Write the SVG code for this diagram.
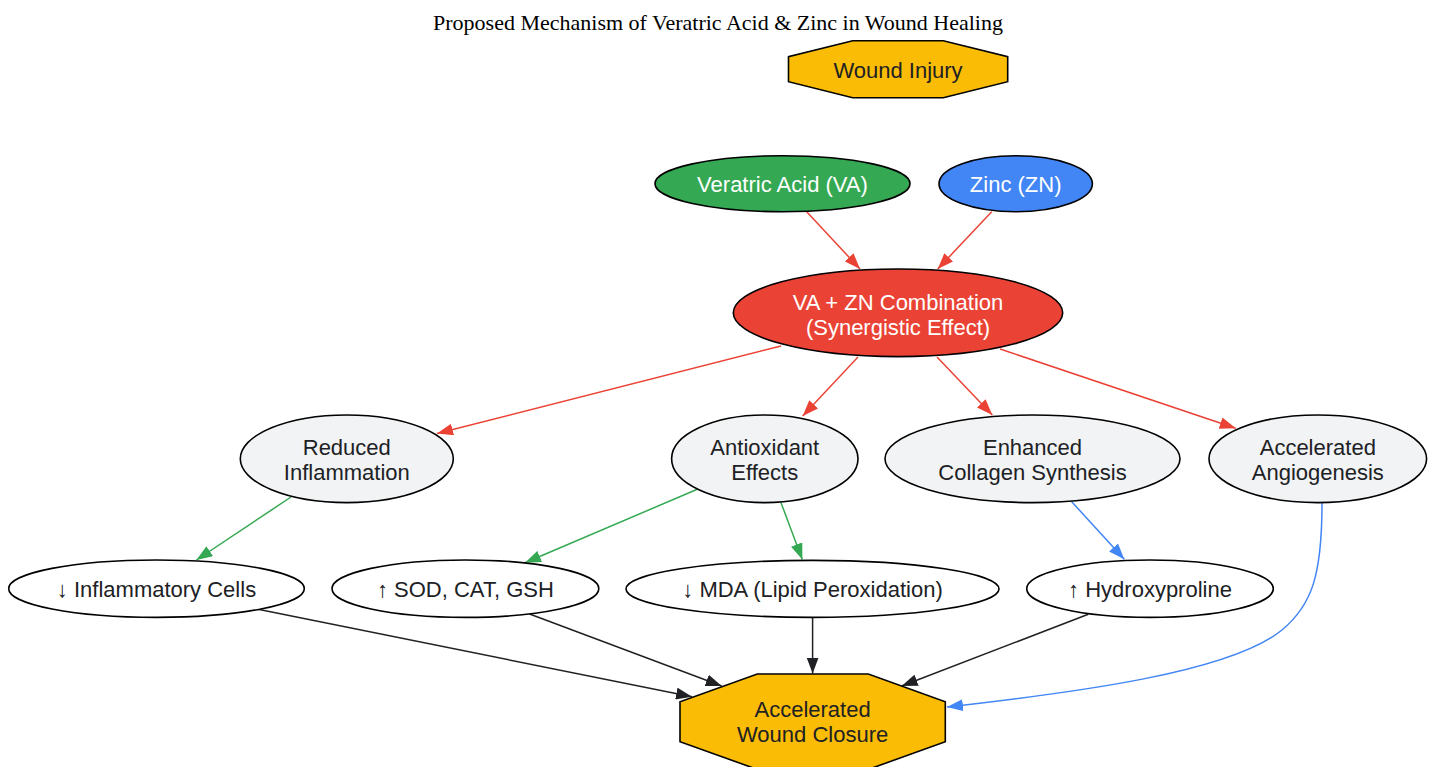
<svg xmlns="http://www.w3.org/2000/svg" width="1437" height="767" viewBox="0 0 1437 767">
<style>
.t{font-family:"Liberation Sans",Arial,sans-serif;font-size:22px;text-anchor:middle;fill:#202124}
.w{fill:#ffffff}
.title{font-family:"Liberation Serif","Times New Roman",serif;font-size:22px;text-anchor:middle;fill:#000}
.n{stroke:#000;stroke-width:1.6}
.g{fill:#F1F3F4}
.wh{fill:#ffffff}
.e{fill:none;stroke-width:1.5}
.red{stroke:#EA4335}
.grn{stroke:#34A853}
.blu{stroke:#4285F4}
.blk{stroke:#202124}
</style>
<defs>
<marker id="ar" markerUnits="userSpaceOnUse" markerWidth="16" markerHeight="12" viewBox="0 0 16 12" refX="16" refY="6" orient="auto"><path d="M0,0 L16,6 L0,12 z" fill="#EA4335"/></marker>
<marker id="ag" markerUnits="userSpaceOnUse" markerWidth="16" markerHeight="12" viewBox="0 0 16 12" refX="16" refY="6" orient="auto"><path d="M0,0 L16,6 L0,12 z" fill="#34A853"/></marker>
<marker id="ab" markerUnits="userSpaceOnUse" markerWidth="16" markerHeight="12" viewBox="0 0 16 12" refX="16" refY="6" orient="auto"><path d="M0,0 L16,6 L0,12 z" fill="#4285F4"/></marker>
<marker id="ak" markerUnits="userSpaceOnUse" markerWidth="16" markerHeight="12" viewBox="0 0 16 12" refX="16" refY="6" orient="auto"><path d="M0,0 L16,6 L0,12 z" fill="#202124"/></marker>
</defs>
<rect width="1437" height="767" fill="#ffffff"/>
<text class="title" x="718" y="30">Proposed Mechanism of Veratric Acid &amp; Zinc in Wound Healing</text>

<g id="connectors">
<path class="e red" d="M806.7,211.7 L860,269" marker-end="url(#ar)"/>
<path class="e red" d="M991.7,211.7 L937.7,269" marker-end="url(#ar)"/>
<path class="e red" d="M781,346 L437,433.5" marker-end="url(#ar)"/>
<path class="e red" d="M858,357 L802.7,416" marker-end="url(#ar)"/>
<path class="e red" d="M937,357 L992.3,415" marker-end="url(#ar)"/>
<path class="e red" d="M1000,349 L1235.7,428.3" marker-end="url(#ar)"/>
<path class="e grn" d="M291,497 L196.4,560" marker-end="url(#ag)"/>
<path class="e grn" d="M697.3,489.3 L525,562.7" marker-end="url(#ag)"/>
<path class="e grn" d="M781,502.7 L802.3,559.5" marker-end="url(#ag)"/>
<path class="e blu" d="M1071.7,501.7 L1124.3,559.3" marker-end="url(#ab)"/>
<path class="e blu" d="M1322,503 C1322,575 1312,605 1282,630 C1230,672 1080,692 947,707" marker-end="url(#ab)"/>
<path class="e blk" d="M258,609.3 L692,696.7" marker-end="url(#ak)"/>
<path class="e blk" d="M529.6,614 L721.7,686" marker-end="url(#ak)"/>
<path class="e blk" d="M812.6,617.3 L812.6,673.5" marker-end="url(#ak)"/>
<path class="e blk" d="M1088.3,614.3 L901.7,686" marker-end="url(#ak)"/>
</g>

<g id="wound_injury">
<polygon class="n" fill="#FBBC05" points="852.7,40.7 943.3,40.7 1007.7,56.7 1007.7,81.7 943.3,97.7 852.7,97.7 788.5,81.7 788.5,56.7"/>
<text class="t" x="898" y="77.5">Wound Injury</text>
</g>
<g id="va">
<ellipse class="n" fill="#34A853" cx="782.5" cy="183.7" rx="127.5" ry="28"/>
<text class="t w" x="782.5" y="191.8">Veratric Acid (VA)</text>
</g>
<g id="zn">
<ellipse class="n" fill="#4285F4" cx="1015.7" cy="183.7" rx="76.7" ry="28"/>
<text class="t w" x="1015.7" y="191.8">Zinc (ZN)</text>
</g>
<g id="combo">
<ellipse class="n" fill="#EA4335" cx="898" cy="312.8" rx="164.7" ry="43.8"/>
<text class="t w" x="898" y="310">VA + ZN Combination</text>
<text class="t w" x="898" y="335">(Synergistic Effect)</text>
</g>
<g id="inflammation">
<ellipse class="n g" cx="346.8" cy="458.8" rx="106.5" ry="43.8"/>
<text class="t" x="346.8" y="455">Reduced</text>
<text class="t" x="346.8" y="480">Inflammation</text>
</g>
<g id="antioxidant">
<ellipse class="n g" cx="764.8" cy="458.8" rx="93.2" ry="43.8"/>
<text class="t" x="764.8" y="455">Antioxidant</text>
<text class="t" x="764.8" y="480">Effects</text>
</g>
<g id="collagen">
<ellipse class="n g" cx="1032.5" cy="458.8" rx="147.5" ry="43.8"/>
<text class="t" x="1032.5" y="455">Enhanced</text>
<text class="t" x="1032.5" y="480">Collagen Synthesis</text>
</g>
<g id="angiogenesis">
<ellipse class="n g" cx="1317.8" cy="458.8" rx="108.8" ry="43.8"/>
<text class="t" x="1317.8" y="455">Accelerated</text>
<text class="t" x="1317.8" y="480">Angiogenesis</text>
</g>
<g id="inflam_cells">
<ellipse class="n wh" cx="156.5" cy="588.7" rx="147.8" ry="28.7"/>
<text class="t" x="156.5" y="597">↓ Inflammatory Cells</text>
</g>
<g id="sod">
<ellipse class="n wh" cx="465.4" cy="588.7" rx="133.4" ry="28.7"/>
<text class="t" x="465.4" y="597">↑ SOD, CAT, GSH</text>
</g>
<g id="mda">
<ellipse class="n wh" cx="812.5" cy="588.9" rx="186.5" ry="28.5"/>
<text class="t" x="812.5" y="597">↓ MDA (Lipid Peroxidation)</text>
</g>
<g id="hydroxyproline">
<ellipse class="n wh" cx="1150" cy="588.7" rx="123.3" ry="28.7"/>
<text class="t" x="1150" y="597">↑ Hydroxyproline</text>
</g>
<g id="closure">
<polygon class="n" fill="#FBBC05" points="757.3,674 868.3,674 945.3,701.7 945.3,741.7 868.3,769.4 757.3,769.4 680,741.7 680,701.7"/>
<text class="t" x="812.6" y="717">Accelerated</text>
<text class="t" x="812.6" y="742">Wound Closure</text>
</g>
</svg>
